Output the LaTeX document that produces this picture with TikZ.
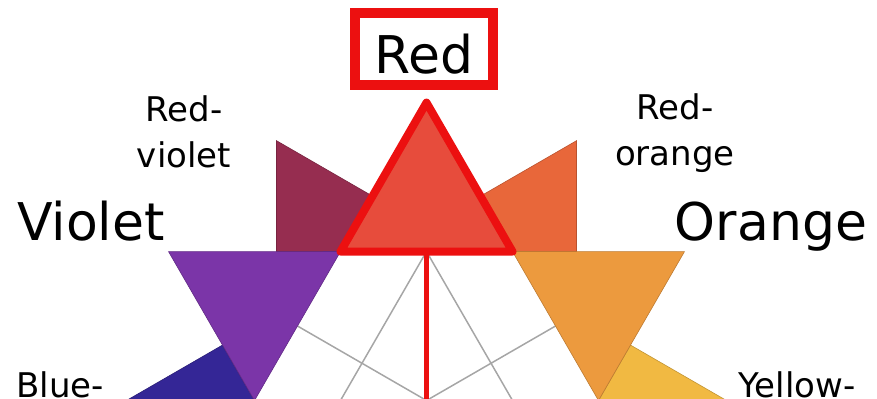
\documentclass[tikz,border=0pt]{standalone}
\usepackage{fontspec}
\setmainfont{DejaVu Sans}

\definecolor{cRed}{RGB}{231,76,60}
\definecolor{cRedViolet}{RGB}{150,45,80}
\definecolor{cViolet}{RGB}{123,53,168}
\definecolor{cBlueViolet}{RGB}{52,38,150}
\definecolor{cRedOrange}{RGB}{232,103,58}
\definecolor{cOrange}{RGB}{236,154,62}
\definecolor{cYellowOrange}{RGB}{241,185,66}
\definecolor{redline}{RGB}{236,16,16}

\tikzset{
  wheelpart/.style={fill=#1, draw=#1!80!black, line width=0.3pt},
  bigname/.style={font=\fontsize{26}{30}\selectfont, anchor=base, inner sep=0pt},
  smallname/.style={font=\fontsize{17}{23}\selectfont, align=center, anchor=base, inner sep=0pt},
}

\begin{document}
\begin{tikzpicture}[x=0.5pt,y=0.5pt]
	
	% --- canvas, 877 x 398 ---
	\clip (0,0) rectangle (877,398);
	
	\def\s{172}    % side of the inner hexagon
	\def\r{297.9}  % tip of a star point
	\def\m{149}    % hexagon edge midpoints
	\def\a{64}     % size of the tertiary kites
	
	\begin{scope}[shift={(426.5,-2.5)}]
		% midpoints of the hexagon edges
		\foreach \t in {30,90,...,330}
			\coordinate (m\t) at (\t:\m);
		
		% thin guide lines inside the hexagon
		\draw[gray!70, line width=0.75pt] (m90) -- (m210) (m90) -- (m330)
			(m30) -- (m210) (m150) -- (m330);
		
		% tertiary colours sit in the notches
		\foreach \b/\c in {120/cRedViolet, 60/cRedOrange, 180/cBlueViolet, 0/cYellowOrange}
			\filldraw[wheelpart=\c] (\b:\s) -- +(\b-60:\a) -- +(\b:2*\a) -- +(\b+60:\a) -- cycle;
		
		% secondary points
		\foreach \t/\c in {150/cViolet, 30/cOrange}
			\filldraw[wheelpart=\c] (\t-30:\s) -- (\t+30:\s) -- (\t:\r) -- cycle;
		
		% red, highlighted
		\draw[redline, line width=2.5pt] (m90) -- (m270);
		\filldraw[fill=cRed, draw=redline, line width=4pt, line join=round]
			(60:\s) -- (120:\s) -- (90:\r) -- cycle;
	\end{scope}
	
	% names (two-line ones sit on their last baseline)
	\node[bigname, draw=redline, line width=5.25pt, minimum width=69pt, minimum height=36pt,
		text height=26pt, text depth=2pt, anchor=center] (lblred) at (424,349) {Red};
	\node[bigname] (lblviolet) at (91,158) {Violet};
	\node[bigname] (lblorange) at (771,158) {Orange};
	\node[smallname] (lblredviolet) at (184,231) {Red-\\violet};
	\node[smallname] (lblredorange) at (675,233) {Red-\\orange};
	\node[smallname] (lblblueviolet) at (60,1) {Blue-};
	\node[smallname] (lblyelloworange) at (797,1) {Yellow-};
	
\end{tikzpicture}
\end{document}
